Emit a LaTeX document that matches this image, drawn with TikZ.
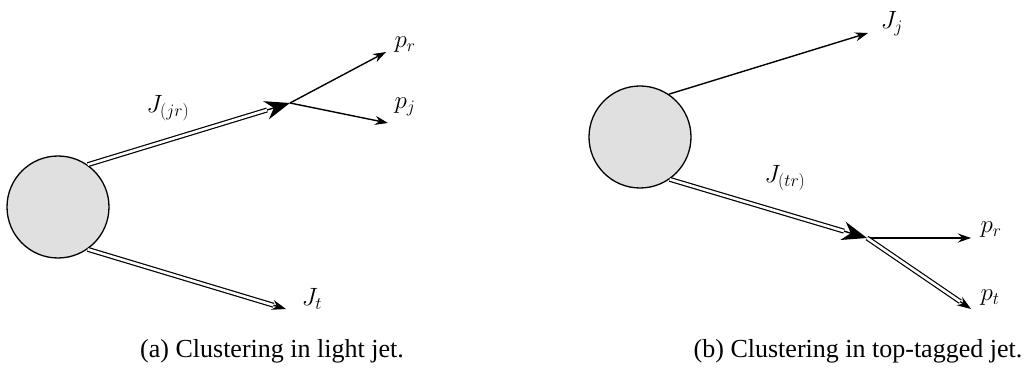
\RequirePackage{fix-cm}
\documentclass[tikz,border=0pt]{standalone}
\usepackage[no-math]{fontspec}
\newfontfamily\capfont{Liberation Serif}
\usetikzlibrary{arrows.meta,calc}
\begin{document}
\begin{tikzpicture}[x=1pt,y=-1pt,
  blob/.style={circle, draw, line width=1.3pt, fill=gray!24, minimum size=102pt, inner sep=0pt},
  dbl/.style={double=white, double distance=2.6pt, line width=1.2pt},
  sarr/.style={line width=1.4pt, -{Stealth[length=13pt,width=9pt]}},
  bigtip/.style={line width=1.4pt, -{Stealth[length=25pt,width=19pt]}},
  endtip/.style={line width=1.4pt, -{Stealth[length=14pt,width=10pt]}},
  lbl/.style={font=\fontsize{25}{30}\selectfont, inner sep=0pt},
  captext/.style={font=\capfont\fontsize{26}{30}\selectfont, inner sep=0pt}]
\useasboundingbox (0,0) rectangle (1027,371);

% ---------- (a) ----------
\node[blob] (cA) at (58,207) {};
\coordinate (vA) at (290,103);
\coordinate (prA) at (386,52);
\coordinate (pjA) at (388,123);
\coordinate (JtA) at (286,309);
\coordinate (vAt) at ($(vA)!24pt!(cA.55)$);
\coordinate (JtAt) at ($(JtA)!13pt!(cA.-55)$);
\draw[dbl] (cA.55) -- (vAt);
\draw[bigtip] (vAt) -- (vA);
\draw[sarr] (vA) -- (prA);
\draw[sarr] (vA) -- (pjA);
\draw[dbl] (cA.-55) -- (JtAt);
\draw[endtip] (JtAt) -- (JtA);
\node[lbl] (lJjr) at (168,108) {$J_{(jr)}$};
\node[lbl] (lprA) at (405,45) {$p_r$};
\node[lbl] (lpjA) at (405,107) {$p_j$};
\node[lbl] (lJtA) at (312,299) {$J_t$};
\node[captext] (capA) at (272,351) {(a) Clustering in light jet.};

% ---------- (b) ----------
\node[blob] (cB) at (640,137) {};
\coordinate (JjB) at (868,33);
\coordinate (vB) at (867,238);
\coordinate (prB) at (971,238);
\coordinate (ptB) at (971,309);
\coordinate (vBt) at ($(vB)!24pt!(cB.-55)$);
\coordinate (ptBt) at ($(ptB)!13pt!(vB)$);
\draw[sarr] (cB.56) -- (JjB);
\draw[dbl] (cB.-55) -- (vBt);
\draw[bigtip] (vBt) -- (vB);
\draw[sarr] (vB) -- (prB);
\draw[dbl] (vB) -- (ptBt);
\draw[endtip] (ptBt) -- (ptB);
\node[lbl] (lJj) at (892,24) {$J_j$};
\node[lbl] (lJtr) at (785,178) {$J_{(tr)}$};
\node[lbl] (lprB) at (991,230) {$p_r$};
\node[lbl] (lptB) at (990,298) {$p_t$};
\node[captext] (capB) at (858,351) {(b) Clustering in top-tagged jet.};
\end{tikzpicture}
\end{document}
